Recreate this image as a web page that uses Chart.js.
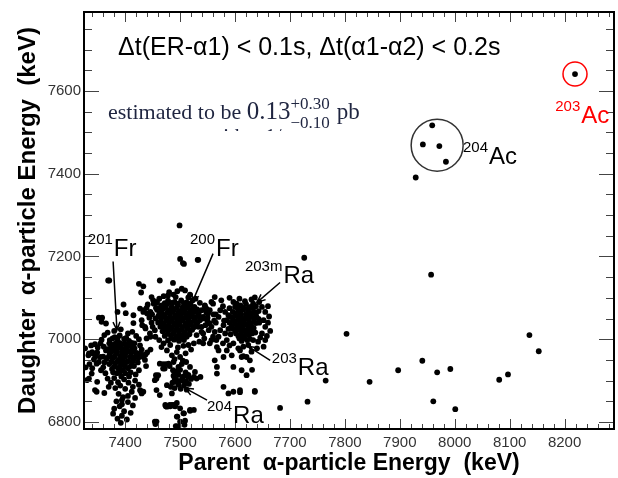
<!DOCTYPE html>
<html>
<head>
<meta charset="utf-8">
<script src="https://cdn.jsdelivr.net/npm/chart.js@4.4.1/dist/chart.umd.min.js"></script>
<style>
  html, body { margin: 0; padding: 0; background: #fff; }
</style>
</head>
<body>
<canvas id="grafico" width="618" height="478"></canvas>
<script>
// ===== Datos =====
const xRango = [7325, 8290];
const yRango = [6783, 7791];
const xTicks = [7400, 7500, 7600, 7700, 7800, 7900, 8000, 8100, 8200];
const yTicks = [6800, 7000, 7200, 7400, 7600];

// 201Fr (nucleo + halo)
const fr201 = [
  [7372,6998],[7381,7005],[7390,7009],[7398,7001],[7407,6996],[7385,6992],[7376,6986],[7394,6988],[7403,6983],[7412,6991],
  [7368,6976],[7380,6975],[7389,6980],[7398,6973],[7408,6971],[7417,6978],[7372,6964],[7384,6966],[7393,6961],[7401,6966],
  [7411,6959],[7421,6967],[7366,6952],[7377,6954],[7388,6950],[7396,6953],[7405,6947],[7415,6951],[7371,6940],[7382,6942],
  [7392,6937],[7400,6942],[7410,6935],[7376,6928],[7387,6930],[7396,6925],[7405,6930],[7423,6944],[7360,6958],[7362,6944],
  [7377,7002],[7386,7001],[7402,7003],[7371,6990],[7381,6989],[7390,6991],[7399,6990],[7408,6988],[7417,6990],
  [7374,6980],[7384,6981],[7393,6979],[7403,6980],[7412,6981],[7375,6970],[7385,6971],[7394,6969],[7404,6970],[7414,6970],
  [7370,6958],[7381,6959],[7391,6957],[7400,6958],[7409,6957],[7419,6958],[7375,6946],[7386,6947],[7395,6945],[7404,6946],
  [7413,6945],[7380,6934],[7390,6933],[7400,6934],[7416,6935],[7378,6920],[7390,6921],[7400,6918],[7410,6920],
  [7355,6990],[7361,6982],[7349,6968],[7340,6969],[7334,6966],[7343,6951],[7355,6957],[7365,6973],[7357,6999],[7345,6988],
  [7327,6978],[7335,6940],[7356,6925],[7364,6918],[7328,6932],[7334,6905],[7349,6897],[7348,6873],[7330,6901],[7339,6917],
  [7348,6941],[7342,6965],[7333,6961],[7352,7052],[7358,7052],[7357,7042],[7365,7038],[7386,7066],[7397,7084],[7401,7063],
  [7415,7058],[7415,7039],[7413,7018],[7369,7142],[7427,6985],[7432,6962],[7425,6925],[7419,6915],
  [7362,7010],[7368,7016],[7380,7020],[7392,7024],[7405,7014],[7420,7008],[7425,7000],[7430,6975],[7436,6950],[7438,6935],
  [7424,6955],[7350,6980],[7338,6985],[7346,6958],[7352,6945],[7340,6930],[7360,6932],[7368,6905],[7374,6895],[7407,6910],
  [7418,6900],[7425,6890],[7370,6885],[7362,6870],[7405,6863],[7418,6858]
];
const fr201Cola = [
  [7385,6918],[7393,6910],[7380,6906],[7398,6903],[7387,6896],[7406,6895],[7391,6888],[7382,6882],[7400,6880],[7414,6885],
  [7388,6868],[7396,6860],[7384,6850],[7405,6848],[7390,6838],[7380,6832],[7398,6826],[7410,6822],[7394,6815],[7386,6808],
  [7403,6806],[7392,6798],[7378,6820],[7414,6840],[7394,6843],[7412,6873],[7430,6869],[7428,6875],[7433,6873]
];
// 200Fr
const fr200 = [
  [7478,7093],[7490,7090],[7502,7094],[7512,7089],
  [7466,7082],[7475,7084],[7485,7080],[7496,7083],[7506,7079],[7516,7082],[7526,7078],
  [7458,7071],[7469,7073],[7479,7069],[7489,7072],[7499,7068],[7509,7071],[7519,7069],[7531,7072],
  [7462,7061],[7472,7059],[7482,7062],[7492,7058],[7502,7061],[7512,7059],[7522,7062],[7534,7060],
  [7455,7050],[7466,7052],[7476,7049],[7486,7051],[7496,7048],[7506,7051],[7516,7049],[7527,7052],[7540,7050],
  [7460,7040],[7470,7038],[7480,7041],[7490,7039],[7500,7042],[7510,7038],[7520,7040],[7532,7041],
  [7464,7030],[7474,7031],[7484,7028],[7494,7031],[7504,7029],[7514,7032],[7525,7029],
  [7468,7019],[7479,7021],[7489,7018],[7498,7020],[7508,7017],[7518,7020],
  [7472,7008],[7483,7010],[7493,7007],[7503,7009],[7512,7006],
  [7478,6997],[7489,6999],[7498,6996],[7507,6998],
  [7472,7087],[7484,7088],[7496,7086],[7507,7087],[7519,7086],
  [7463,7076],[7474,7077],[7484,7075],[7494,7076],[7504,7075],[7514,7077],[7524,7075],
  [7466,7066],[7477,7065],[7487,7067],[7497,7065],[7507,7066],[7517,7064],[7527,7066],
  [7460,7055],[7471,7056],[7481,7054],[7491,7055],[7501,7056],[7511,7054],[7521,7055],[7532,7056],
  [7465,7045],[7475,7046],[7485,7044],[7495,7045],[7505,7046],[7515,7044],[7526,7045],
  [7468,7035],[7479,7034],[7489,7036],[7499,7035],[7509,7034],[7519,7035],[7529,7036],
  [7472,7024],[7483,7025],[7493,7023],[7503,7024],[7513,7025],[7522,7023],
  [7477,7013],[7488,7014],[7498,7012],[7507,7013],[7517,7012],
  [7484,7003],[7494,7002],[7503,7003]
];
const fr200Halo = [
  [7499,7275],[7500,7194],[7505,7184],[7533,7192],[7463,7142],[7487,7136],[7425,7134],[7433,7128],[7429,7113],
  [7480,7114],[7488,7108],[7495,7116],[7503,7122],[7509,7118],[7515,7101],[7523,7094],
  [7451,7094],[7457,7088],[7439,7076],[7433,7066],[7427,7074],[7434,7070],[7440,7062],[7446,7066],[7452,7086],[7458,7090],
  [7431,7034],[7437,7026],[7430,7046],[7436,7030],[7445,7014],[7454,7022],[7439,7002],[7446,7006],
  [7539,7070],[7542,7054],[7536,7046],[7533,7030],[7539,7018],[7530,7010],
  [7466,6981],[7476,6973],[7485,6961],[7494,6969],[7500,6957],[7488,6945],[7479,6941],[7497,6933],
  [7463,6941],[7472,6929],[7460,6913],[7469,6940],[7474,6940],[7469,6929],
  [7518,6933],[7527,6921],[7515,6909],[7530,6905],[7525,6909],[7537,6909],
  [7437,6963],[7440,6968],[7446,6975],[7427,6965],[7433,6957],[7456,6913],[7457,6905],[7454,6901],[7457,6877],[7427,6877],[7463,6865],
  [7448,7102],[7456,7076],[7462,7098],[7470,7104],[7478,7106],[7492,7102],[7518,7108],[7528,7098],[7536,7088],[7545,7080],
  [7548,7064],[7550,7044],[7546,7034],[7552,7022],[7544,7002],[7535,6994],[7525,6990],[7515,6986],[7506,6984],[7470,6990],
  [7462,6998],[7455,7006],[7450,7030],[7448,7040],[7444,7052],[7449,7060],[7441,7084],[7520,6975],[7510,6966],[7505,6948],
  [7490,6952],[7482,6986],[7496,6980],[7487,6925],[7481,6935],[7503,6940],[7511,6945],[7557,7090],[7561,7060],[7565,7040]
];
// 204Ra
const ra204 = [
  [7492,6922],[7500,6926],[7510,6920],[7488,6912],[7497,6914],[7506,6910],[7515,6914],[7493,6902],[7502,6900],[7511,6898],
  [7520,6904],[7486,6895],[7497,6890],[7507,6888],[7516,6892],[7501,6880],[7490,6882],[7512,6878],
  [7496,6918],[7504,6905],[7490,6905],[7509,6894],[7495,6896],
  [7476,6889],[7485,6869],[7473,6841],[7481,6841],[7488,6841],[7494,6846],[7500,6833],[7506,6821],[7518,6829],[7494,6813],
  [7500,6801],[7497,6789],[7483,6885],[7495,6813],[7507,6821],[7525,6829],[7518,6827],[7476,6837],[7485,6841],[7491,6838],
  [7474,6838],[7482,6838],[7489,6839],[7454,6801],[7457,6801],[7455,6795],[7509,6803],[7494,6789],[7508,6793],[7495,6786],[7492,6790]
];
// 203mRa / 203Ra
const ra203m = [
  [7563,7102],[7597,7090],[7603,7086],[7630,7096],[7636,7101],[7633,7086],[7649,7078],[7655,7066],
  [7573,7070],[7582,7066],[7588,7058],[7570,7054],[7548,7066],[7545,7050],[7554,7038],
  [7652,7046],[7655,7030],[7649,7014],[7579,7034],[7573,7022],[7582,7014],[7570,7006],[7585,6998],
  [7539,7030],[7542,7014],[7557,6998],[7554,6990],[7597,6990],[7606,6978],[7615,6982],[7624,6986],[7633,6998],[7642,6994],
  [7585,6973],[7594,6961],[7612,6957],[7655,6998],[7652,6982],
  [7600,7078],[7610,7082],[7620,7085],[7628,7078],[7638,7080],[7596,7066],[7606,7070],[7615,7072],[7624,7068],[7634,7066],
  [7643,7068],[7592,7054],[7602,7057],[7611,7060],[7620,7056],[7629,7058],[7639,7054],[7598,7044],[7607,7046],[7616,7043],
  [7625,7047],[7634,7042],[7644,7040],[7594,7032],[7604,7034],[7613,7031],[7622,7035],[7631,7030],[7600,7020],[7610,7022],
  [7619,7018],[7628,7022],[7637,7016],[7606,7008],[7616,7006],[7625,7010],[7612,6996],[7622,6998],[7590,7040],[7585,7046],
  [7605,7075],[7615,7076],[7624,7074],[7633,7075],[7600,7062],[7610,7063],[7620,7061],[7629,7062],[7638,7061],
  [7596,7050],[7606,7051],[7615,7049],[7624,7050],[7634,7051],[7643,7049],[7600,7038],[7610,7039],[7619,7037],[7628,7038],
  [7638,7039],[7596,7026],[7605,7027],[7615,7025],[7624,7026],[7634,7027],[7602,7014],[7611,7013],[7621,7015],[7631,7014],
  [7608,7002],[7617,7003],[7627,7001],
  [7618,7092],[7548,7074],[7554,7070],[7551,7062],[7557,7030],[7563,7018],[7542,6990],[7560,7006],
  [7560,7086],[7575,7094],[7590,7100],[7608,7098],[7644,7090],[7660,7080],[7662,7055],[7660,7040],[7664,7020],[7658,7008],
  [7646,7004],[7640,6978],[7630,6970],[7590,6985],[7578,6990],[7566,6998],[7562,7045],[7565,7060],[7578,7080],[7590,7075],
  [7588,7025],[7592,7012],[7580,7045],[7550,7052],[7545,7082]
];
const ra203 = [
  [7609,6973],[7621,6957],[7597,6933],[7612,6925],[7627,6949],[7579,6957],[7567,6981],
  [7567,6917],[7579,6885],[7588,6869],[7597,6873],[7609,6877],[7636,6873],[7621,6913],
  [7563,6949],[7567,6933],[7570,6973],[7615,6959],[7631,6926],[7609,6872],[7636,6875]
];
// eventos aislados
const dispersos = [
  [7726,7197],[7957,7156],[7803,7013],[8136,7010],[8153,6971],[7941,6948],[7897,6925],[7992,6928],[7968,6920],
  [8097,6915],[8081,6902],[7765,6900],[7845,6897],[7961,6850],[8001,6831],[7732,6849],[7682,6834],
  [7371,7142],[7532,7192],[7507,7182],[7394,6853],[7345,6877]
];
const ac204 = [[7959,7517],[7942,7471],[7972,7467],[7984,7429],[7929,7391]];
const ac203 = [[8219,7641]];

// ===== Anotaciones (en coordenadas de datos) =====
const etiquetas = [
  { iso: '201', el: 'Fr', x: 7332, y: 7202, color: '#000' },
  { iso: '200', el: 'Fr', x: 7518, y: 7202, color: '#000' },
  { iso: '203m', el: 'Ra', x: 7618, y: 7137, color: '#000' },
  { iso: '203', el: 'Ra', x: 7667, y: 6913, color: '#000' },
  { iso: '204', el: 'Ra', x: 7549, y: 6797, color: '#000' },
  { iso: '204', el: 'Ac', x: 8015, y: 7424, color: '#000' },
  { iso: '203', el: 'Ac', x: 8183, y: 7523, color: '#f00' }
];
const flechas = [
  [7378, 7188, 7385, 7022],
  [7560, 7207, 7522, 7089],
  [7682, 7137, 7640, 7089],
  [7664, 6949, 7624, 6983],
  [7549, 6853, 7509, 6882]
];
const circulos = [
  { x: 7968, y: 7469, r: 26, color: '#333' },
  { x: 8219, y: 7641, r: 12, color: '#f00' }
];

const SANS = '"Liberation Sans", Arial, sans-serif';
const SERIF = '"Liberation Serif", "Times New Roman", serif';

function puntos(...grupos) {
  const out = [];
  grupos.forEach(g => g.forEach(p => out.push({ x: p[0], y: p[1] })));
  return out;
}

function flecha(ctx, x1, y1, x2, y2) {
  const ang = Math.atan2(y2 - y1, x2 - x1);
  const L = 9;
  ctx.beginPath();
  ctx.moveTo(x1, y1);
  ctx.lineTo(x2, y2);
  ctx.moveTo(x2 - L * Math.cos(ang - 0.4), y2 - L * Math.sin(ang - 0.4));
  ctx.lineTo(x2, y2);
  ctx.lineTo(x2 - L * Math.cos(ang + 0.4), y2 - L * Math.sin(ang + 0.4));
  ctx.stroke();
}

// ===== Marco, ticks interiores y textos =====
const marcoPlugin = {
  id: 'marco',
  afterDraw(chart) {
    const { ctx, chartArea: a, scales: { x, y } } = chart;
    ctx.save();

    // ticks menores / mayores hacia dentro
    ctx.strokeStyle = '#444';
    ctx.lineWidth = 1;
    ctx.beginPath();
    for (let v = 7340; v <= 8280; v += 20) {
      const px = Math.round(x.getPixelForValue(v)) + 0.5;
      const len = v % 100 === 0 ? 10 : 5;
      ctx.moveTo(px, a.bottom); ctx.lineTo(px, a.bottom - len);
      ctx.moveTo(px, a.top); ctx.lineTo(px, a.top + len);
    }
    for (let v = 6800; v <= 7750; v += 50) {
      const py = Math.round(y.getPixelForValue(v)) + 0.5;
      const len = v % 200 === 0 ? 15 : 8;
      ctx.moveTo(a.left, py); ctx.lineTo(a.left + len, py);
      ctx.moveTo(a.right, py); ctx.lineTo(a.right - len, py);
    }
    ctx.stroke();

    ctx.strokeStyle = '#000';
    ctx.lineWidth = 2;
    ctx.strokeRect(a.left, a.top, a.width, a.height);

    // círculos
    ctx.lineWidth = 1.5;
    circulos.forEach(c => {
      ctx.strokeStyle = c.color;
      ctx.beginPath();
      ctx.arc(x.getPixelForValue(c.x), y.getPixelForValue(c.y), c.r, 0, Math.PI * 2);
      ctx.stroke();
    });

    // flechas
    ctx.strokeStyle = '#000';
    ctx.lineWidth = 1.5;
    flechas.forEach(f => flecha(ctx, x.getPixelForValue(f[0]), y.getPixelForValue(f[1]),
                                     x.getPixelForValue(f[2]), y.getPixelForValue(f[3])));

    // etiquetas de isótopos
    ctx.textBaseline = 'alphabetic';
    ctx.textAlign = 'left';
    etiquetas.forEach(e => {
      const px = x.getPixelForValue(e.x), py = y.getPixelForValue(e.y);
      ctx.fillStyle = e.color;
      ctx.font = '15px ' + SANS;
      ctx.fillText(e.iso, px, py - 12);
      const w = ctx.measureText(e.iso).width;
      ctx.font = '24px ' + SANS;
      ctx.fillText(e.el, px + w + 1, py);
    });

    // condición de tiempos
    ctx.fillStyle = '#000';
    ctx.font = '25px ' + SANS;
    ctx.fillText('\u0394t(ER-\u03b11) < 0.1s, \u0394t(\u03b11-\u03b12) < 0.2s', a.left + 34, 55);

    // sección eficaz
    ctx.fillStyle = '#1f2540';
    let cx = a.left + 24;
    ctx.font = '22px ' + SERIF;
    ctx.fillText('estimated to be ', cx, 119);
    cx += ctx.measureText('estimated to be ').width;
    ctx.font = '25px ' + SERIF;
    ctx.fillText('0.13', cx, 119);
    cx += ctx.measureText('0.13').width;
    ctx.font = '17px ' + SERIF;
    ctx.fillText('+0.30', cx, 109);
    ctx.fillText('\u22120.10', cx, 128);
    cx += ctx.measureText('+0.30').width + 7;
    ctx.font = '23px ' + SERIF;
    ctx.fillText('pb', cx, 119);

    // línea siguiente cortada
    ctx.beginPath();
    ctx.rect(a.left + 118, 124, 80, 7);
    ctx.clip();
    ctx.font = '21px ' + SERIF;
    ctx.fillText('with a 1/\u03c3 limit of', a.left + 124, 143);

    ctx.restore();
  }
};

const ctx = document.getElementById('grafico').getContext('2d');
new Chart(ctx, {
  type: 'scatter',
  data: {
    datasets: [{
      data: puntos(fr201, fr201Cola, fr200, fr200Halo, ra204, ra203m, ra203, dispersos, ac204, ac203),
      backgroundColor: '#000',
      borderWidth: 0,
      pointRadius: 2.9,
      pointHoverRadius: 2.9
    }]
  },
  options: {
    responsive: false,
    animation: false,
    layout: { padding: { top: 11, right: 4, left: 0, bottom: 0 } },
    plugins: { legend: { display: false }, tooltip: { enabled: false } },
    scales: {
      x: {
        type: 'linear',
        min: xRango[0], max: xRango[1],
        grid: { display: false, drawTicks: false },
        border: { display: false },
        afterBuildTicks: s => { s.ticks = xTicks.map(v => ({ value: v })); },
        afterFit: s => { s.height = 49; },
        ticks: { color: '#333', font: { family: SANS, size: 15 }, padding: 5, maxRotation: 0, callback: v => String(v) },
        title: {
          display: true,
          text: 'Parent  \u03b1-particle Energy  (keV)',
          color: '#000',
          font: { family: SANS, size: 23, weight: 'bold' },
          padding: { top: 0, bottom: 1 }
        }
      },
      y: {
        type: 'linear',
        min: yRango[0], max: yRango[1],
        grid: { display: false, drawTicks: false },
        border: { display: false },
        afterBuildTicks: s => { s.ticks = yTicks.map(v => ({ value: v })); },
        afterFit: s => { s.width = 84; },
        ticks: { color: '#333', font: { family: SANS, size: 15 }, padding: 3, callback: v => String(v) },
        title: {
          display: true,
          text: 'Daughter  \u03b1-particle Energy  (keV)',
          color: '#000',
          font: { family: SANS, size: 24, weight: 'bold' },
          padding: { top: 14, bottom: 0 }
        }
      }
    }
  },
  plugins: [marcoPlugin]
});
</script>
</body>
</html>
